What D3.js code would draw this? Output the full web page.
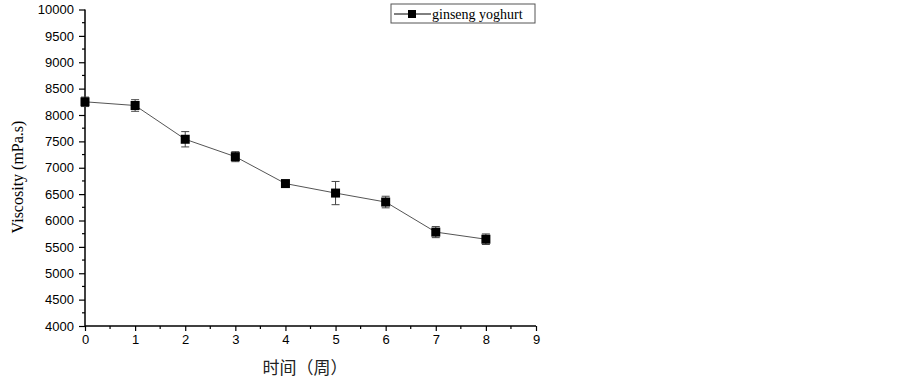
<!DOCTYPE html>
<html>
<head>
<meta charset="UTF-8">
<title>Viscosity</title>
<script src="https://d3js.org/d3.v7.min.js"></script>
<style>
    body { margin: 0; background: #fff; overflow: hidden; }
    svg { display: block; }
</style>
</head>
<body>
<svg id="mainsvg" width="903" height="384"></svg>
<script>
    // data
    const weeks = [0, 1, 2, 3, 4, 5, 6, 7, 8];
    const viscosity = [8250, 8180, 7540, 7210, 6700, 6520, 6350, 5780, 5645];
    const errors = [90, 110, 145, 95, 50, 220, 110, 105, 100];
    const xTicks = [0, 1, 2, 3, 4, 5, 6, 7, 8, 9];
    const yTicks = [4000, 4500, 5000, 5500, 6000, 6500, 7000, 7500, 8000, 8500, 9000, 9500, 10000];
    const seriesName = 'ginseng yoghurt';

    const svg = d3.select('#mainsvg');
    const margin = {left: 85, top: 9.5, right: 367, bottom: 58};
    const width = +svg.attr('width');
    const height = +svg.attr('height');
    const innerWidth = width - margin.left - margin.right;
    const innerHeight = height - margin.top - margin.bottom;

    const xScale = d3.scaleLinear().domain([0, 9]).range([0, innerWidth]);
    const yScale = d3.scaleLinear().domain([4000, 10000]).range([innerHeight, 0]);

    const g = svg.append('g').attr('transform', `translate(${margin.left}, ${margin.top})`);

    // minor ticks (half steps)
    const xMinor = d3.range(0.5, 9, 1);
    const yMinor = d3.range(4250, 10000, 500);

    const xAxis = d3.axisBottom(xScale).tickValues(xTicks).tickSize(5).tickPadding(4).tickFormat(d3.format('d'));
    const yAxis = d3.axisLeft(yScale).tickValues(yTicks).tickSize(6).tickPadding(5).tickFormat(d3.format('d'));

    const xg = g.append('g').attr('transform', `translate(0, ${innerHeight})`).call(xAxis);
    const yg = g.append('g').call(yAxis);
    [xg, yg].forEach(a => {
        a.attr('font-size', 13).attr('font-family', '"Liberation Sans", Arial, sans-serif');
        a.selectAll('.domain').attr('stroke', '#000').attr('stroke-width', 1.5);
        a.selectAll('.tick line').attr('stroke', '#000').attr('stroke-width', 1.2);
        a.selectAll('.tick text').attr('fill', '#000');
    });
    xg.selectAll('.domain').attr('d', `M0,0H${innerWidth}`);
    yg.selectAll('.domain').attr('d', `M0,${innerHeight}V0`);

    xg.selectAll('.minor').data(xMinor).join('line')
        .attr('class', 'minor')
        .attr('x1', d => xScale(d)).attr('x2', d => xScale(d))
        .attr('y1', 0).attr('y2', 3).attr('stroke', '#000').attr('stroke-width', 1.2);
    yg.selectAll('.minor').data(yMinor).join('line')
        .attr('class', 'minor')
        .attr('y1', d => yScale(d)).attr('y2', d => yScale(d))
        .attr('x1', 0).attr('x2', -3).attr('stroke', '#000').attr('stroke-width', 1.2);

    // axis titles
    svg.append('text')
        .attr('transform', `translate(23, 177) rotate(-90)`)
        .attr('text-anchor', 'middle')
        .attr('font-family', '"Liberation Serif", "Times New Roman", serif')
        .attr('font-size', 16)
        .text('Viscosity (mPa.s)');

    svg.append('text')
        .attr('x', 305)
        .attr('y', 374)
        .attr('text-anchor', 'middle')
        .attr('font-family', '"Noto Sans CJK SC", sans-serif')
        .attr('font-size', 17)
        .attr('fill', '#222')
        .text('时间（周）');

    const pts = weeks.map((w, i) => ({x: w, y: viscosity[i], e: errors[i]}));

    // line
    const line = d3.line().x(d => xScale(d.x)).y(d => yScale(d.y));
    g.append('path').datum(pts)
        .attr('d', line)
        .attr('fill', 'none')
        .attr('stroke', '#555')
        .attr('stroke-width', 1);

    // error bars
    const eb = g.selectAll('.eb').data(pts).join('g').attr('class', 'eb');
    eb.append('line')
        .attr('x1', d => xScale(d.x)).attr('x2', d => xScale(d.x))
        .attr('y1', d => yScale(d.y + d.e)).attr('y2', d => yScale(d.y - d.e))
        .attr('stroke', '#444').attr('stroke-width', 1);
    [1, -1].forEach(s => {
        eb.append('line')
            .attr('x1', d => xScale(d.x) - 4).attr('x2', d => xScale(d.x) + 4)
            .attr('y1', d => yScale(d.y + s * d.e)).attr('y2', d => yScale(d.y + s * d.e))
            .attr('stroke', '#444').attr('stroke-width', 1);
    });

    // markers
    g.selectAll('.pt').data(pts).join('rect')
        .attr('class', 'pt')
        .attr('x', d => xScale(d.x) - 4.5)
        .attr('y', d => yScale(d.y) - 4.5)
        .attr('width', 9).attr('height', 9)
        .attr('fill', '#000');

    // legend
    const lg = svg.append('g').attr('transform', 'translate(391, 4)');
    lg.append('rect').attr('width', 144).attr('height', 19)
        .attr('fill', '#fff').attr('stroke', '#555').attr('stroke-width', 1);
    lg.append('line').attr('x1', 3).attr('x2', 40).attr('y1', 10).attr('y2', 10)
        .attr('stroke', '#000').attr('stroke-width', 1);
    lg.append('rect').attr('x', 17).attr('y', 6).attr('width', 8).attr('height', 8).attr('fill', '#000');
    lg.append('text').attr('x', 41).attr('y', 15)
        .attr('font-family', '"Liberation Serif", "Times New Roman", serif')
        .attr('font-size', 14)
        .text(seriesName);
</script>
</body>
</html>
